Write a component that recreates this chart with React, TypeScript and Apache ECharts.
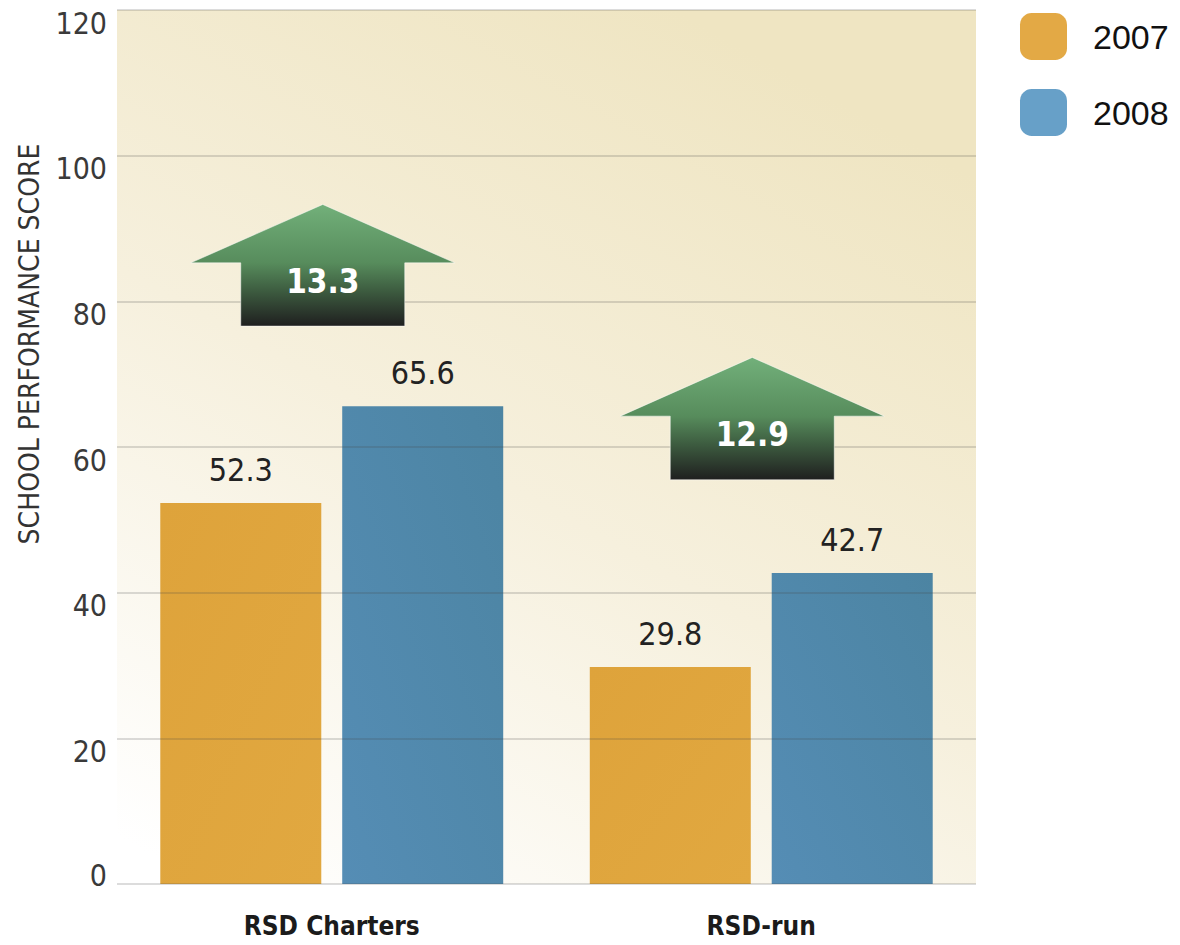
import React, { useEffect, useRef } from "react";
import * as echarts from "echarts";

const categories = ["RSD Charters", "RSD-run"];
const series2007 = [52.3, 29.8];
const series2008 = [65.6, 42.7];
const changes = [13.3, 12.9];
const arrowBase = [76.6, 55.5];
const arrowTip = [93.3, 72.3];
const yTicks = [0, 20, 40, 60, 80, 100, 120];
const legendNames = ["2007", "2008"];
const yTitle = "SCHOOL PERFORMANCE SCORE";

const NARROW =
  "'Liberation Sans Narrow', 'DejaVu Sans Condensed', 'Liberation Sans', sans-serif";
const REGULAR = "'Liberation Sans', Arial, Helvetica, sans-serif";

export default function App() {
  const ref = useRef<HTMLDivElement>(null);

  useEffect(() => {
    if (!ref.current) return;
    const chart = echarts.init(ref.current, undefined, { renderer: "svg" });

    const arrowData = categories.map((_, i) => [i, arrowBase[i], arrowTip[i], changes[i]]);

    const option: any = {
      animation: false,
      backgroundColor: "#ffffff",
      grid: {
        left: 117,
        right: 204,
        top: 10,
        bottom: 61,
        show: true,
        borderWidth: 0,
        backgroundColor: new echarts.graphic.LinearGradient(0.1, 1, 0.65, 0, [
          { offset: 0, color: "#ffffff" },
          { offset: 0.5, color: "#f6f0dd" },
          { offset: 1, color: "#efe5c2" },
        ]),
      },
      legend: {
        orient: "vertical",
        left: 1020,
        top: 13,
        padding: 0,
        itemWidth: 47,
        itemHeight: 47,
        itemGap: 29,
        icon: "roundRect",
        selectedMode: false,
        textStyle: {
          fontFamily: REGULAR,
          fontSize: 34,
          color: "#111111",
          padding: [0, 0, 0, 21],
        },
        data: [
          { name: legendNames[0], itemStyle: { color: "#e3a945" } },
          { name: legendNames[1], itemStyle: { color: "#67a0c8" } },
        ],
      },
      graphic: [
        {
          type: "text",
          x: 29,
          y: 344,
          rotation: Math.PI / 2,
          style: {
            text: yTitle,
            fontFamily: NARROW,
            fontSize: 28,
            fill: "#333333",
            align: "center",
            verticalAlign: "middle",
          },
        },
      ],
      xAxis: {
        type: "category",
        data: categories,
        axisLine: { show: false },
        axisTick: { show: false },
        splitLine: { show: false },
        axisLabel: {
          fontFamily: NARROW,
          fontWeight: "bold",
          fontSize: 26,
          color: "#1b1b1b",
          margin: 29,
        },
      },
      yAxis: {
        type: "value",
        min: 0,
        max: 120,
        interval: 20,
        axisLine: { show: false },
        axisTick: { show: false },
        splitLine: { show: false },
        axisLabel: {
          margin: 10,
          formatter: (v: number) => (v === 0 ? "{z|" + v + "}" : "{n|" + v + "}"),
          rich: {
            n: {
              fontFamily: NARROW,
              fontSize: 30,
              color: "#3a3a3a",
              padding: [26, 0, 0, 0],
            },
            z: {
              fontFamily: NARROW,
              fontSize: 30,
              color: "#3a3a3a",
              padding: [0, 0, 18, 0],
            },
          },
        },
      },
      series: [
        {
          name: legendNames[0],
          type: "bar",
          data: series2007,
          barWidth: 161,
          barGap: "13%",
          itemStyle: {
            color: new echarts.graphic.LinearGradient(0, 0, 1, 1, [
              { offset: 0, color: "#dea33b" },
              { offset: 1, color: "#e1a840" },
            ]),
          },
          label: {
            show: true,
            position: "top",
            distance: 17,
            fontFamily: NARROW,
            fontSize: 32,
            color: "#222222",
          },
        },
        {
          name: legendNames[1],
          type: "bar",
          data: series2008,
          barWidth: 161,
          barGap: "13%",
          itemStyle: {
            color: new echarts.graphic.LinearGradient(1, 0, 0, 1, [
              { offset: 0, color: "#4c84a2" },
              { offset: 1, color: "#558db5" },
            ]),
          },
          label: {
            show: true,
            position: "top",
            distance: 17,
            fontFamily: NARROW,
            fontSize: 32,
            color: "#222222",
          },
          markLine: {
            silent: true,
            symbol: "none",
            label: { show: false },
            lineStyle: { color: "rgba(70,70,70,0.25)", width: 1.6, type: "solid" },
            data: yTicks.map((v) => ({ yAxis: v })),
          },
        },
        {
          name: "change",
          type: "custom",
          z: 10,
          encode: { x: 0, y: [1, 2] },
          data: arrowData,
          renderItem: (params: any, api: any) => {
            const idx = api.value(0);
            const base = api.coord([idx, api.value(1)]);
            const tip = api.coord([idx, api.value(2)]);
            const cx = base[0] - 9;
            const bottomY = base[1];
            const tipY = tip[1];
            const wingY = tipY + (bottomY - tipY) * 0.48;
            const wingHalf = 132;
            const shaftHalf = 82;
            const points = [
              [cx, tipY],
              [cx + wingHalf, wingY],
              [cx + shaftHalf, wingY],
              [cx + shaftHalf, bottomY],
              [cx - shaftHalf, bottomY],
              [cx - shaftHalf, wingY],
              [cx - wingHalf, wingY],
            ];
            return {
              type: "group",
              children: [
                {
                  type: "polygon",
                  shape: { points },
                  style: {
                    fill: new echarts.graphic.LinearGradient(0, 0, 0, 1, [
                      { offset: 0, color: "#72b07a" },
                      { offset: 0.48, color: "#578c5c" },
                      { offset: 0.7, color: "#3e5e41" },
                      { offset: 1, color: "#1f1f1f" },
                    ]),
                    stroke: "rgba(255,255,255,0.5)",
                    lineWidth: 1,
                  },
                },
                {
                  type: "text",
                  x: cx,
                  y: wingY + (bottomY - wingY) * 0.29,
                  style: {
                    text: String(api.value(3)),
                    fontFamily: NARROW,
                    fontWeight: "bold",
                    fontSize: 33,
                    fill: "#ffffff",
                    align: "center",
                    verticalAlign: "middle",
                  },
                },
              ],
            };
          },
        },
      ],
    };

    chart.setOption(option);
    return () => chart.dispose();
  }, []);

  return (
    <div
      ref={ref}
      style={{ position: "fixed", left: 0, top: 0, width: 1180, height: 945 }}
    />
  );
}
